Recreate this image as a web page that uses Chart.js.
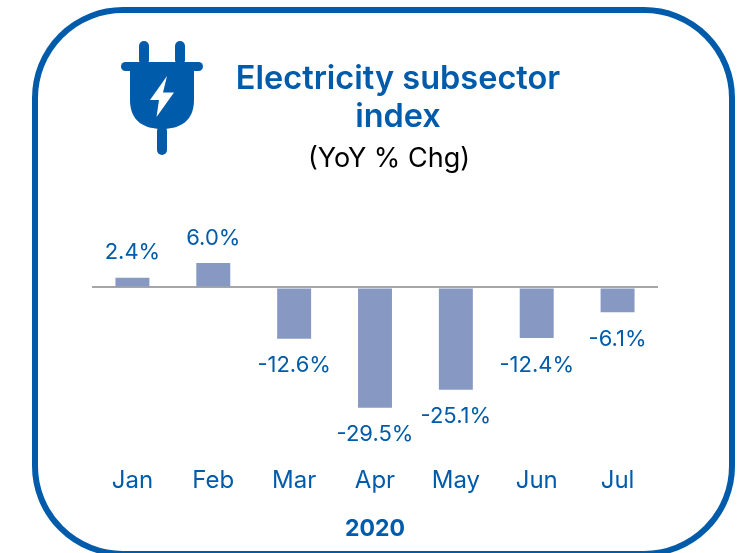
<!DOCTYPE html>
<html>
<head>
<meta charset="utf-8">
<script src="https://cdn.jsdelivr.net/npm/chart.js@4"></script>
<style>
  html, body { margin: 0; padding: 0; background: #fff; overflow: hidden; width: 740px; height: 553px; }
  .frame { position: absolute; left: 32px; top: 7px; width: 691px; height: 538px; border: 6px solid #005BAA; border-radius: 91px; }
  .plug { position: absolute; left: 118px; top: 38px; }
  .wrap { position: absolute; left: 56px; top: 0; width: 684px; height: 553px; }
</style>
</head>
<body>
<div class="frame"></div>
<svg class="plug" width="88" height="120" viewBox="0 0 88 120">
  <g fill="#005BAA">
    <rect x="21" y="3" width="10" height="24" rx="5"/>
    <rect x="57" y="3" width="10" height="24" rx="5"/>
    <rect x="3" y="24" width="82" height="9" rx="4.5"/>
    <path d="M12 30H76V62C76 83 62 91 44 91C26 91 12 83 12 62Z"/>
    <rect x="39" y="88" width="10" height="29" rx="5"/>
  </g>
  <path d="M49 38L32 62H41L38.5 79L56 54.5H45Z" fill="#fff"/>
</svg>
<div class="wrap"><canvas id="myChart" width="684" height="553"></canvas></div>
<script>
const months = ['Jan', 'Feb', 'Mar', 'Apr', 'May', 'Jun', 'Jul'];
const yoyChange = [2.4, 6.0, -12.6, -29.5, -25.1, -12.4, -6.1];
const titleLines = ['Electricity subsector', 'index'];
const subtitleText = '(YoY % Chg)';
const yearLabel = '2020';

const blue = '#005BAA';
const fontName = 'Inter, "Open Sans", sans-serif';

// value labels above / below the bars, plus the subtitle which sits left of the title centre
const valueLabels = {
  id: 'valueLabels',
  afterDatasetsDraw(chart) {
    const ctx = chart.ctx;
    const bars = chart.getDatasetMeta(0).data;
    ctx.save();
    ctx.textAlign = 'center';
    ctx.textBaseline = 'middle';
    ctx.font = '27px ' + fontName;
    ctx.fillStyle = '#000';
    ctx.fillText(subtitleText, 333, 159);
    ctx.font = '22px ' + fontName;
    ctx.fillStyle = blue;
    bars.forEach((bar, i) => {
      const v = yoyChange[i];
      const y = v >= 0 ? bar.y - 25 : bar.y + 27;
      ctx.fillText(v.toFixed(1) + '%', bar.x, y);
    });
    ctx.restore();
  }
};

const myChart = new Chart(document.getElementById('myChart'), {
  type: 'bar',
  data: {
    labels: months,
    datasets: [{
      data: yoyChange,
      backgroundColor: '#8799C3',
      categoryPercentage: 1,
      barPercentage: 0.42
    }]
  },
  options: {
    responsive: false,
    animation: false,
    layout: { padding: { left: 36, right: 36, top: 60, bottom: 10 } },
    scales: {
      x: {
        grid: { display: false },
        border: { display: false },
        ticks: { color: blue, font: { family: fontName, size: 24 }, padding: 0, maxRotation: 0 },
        title: { display: true, text: yearLabel, color: blue, font: { family: fontName, size: 23, weight: 'bold' }, padding: { top: 20, bottom: 0 } }
      },
      y: {
        position: 'right',
        min: -42,
        max: 27,
        // empty axis on the right, it pushes the plot left of the title centre
        afterFit: scale => { scale.width = 46; },
        ticks: { display: false, stepSize: 1 },
        border: { display: false },
        grid: {
          drawTicks: false,
          lineWidth: 2,
          color: ctx => ctx.tick.value === 0 ? '#A6A6A6' : 'transparent'
        }
      }
    },
    plugins: {
      legend: { display: false },
      tooltip: { enabled: false },
      title: {
        display: true,
        text: titleLines,
        color: blue,
        font: { family: fontName, size: 32.5, weight: '600', lineHeight: 1.17 },
        padding: { top: 0, bottom: 41.4 }
      }
    }
  },
  plugins: [valueLabels]
});
</script>
</body>
</html>
